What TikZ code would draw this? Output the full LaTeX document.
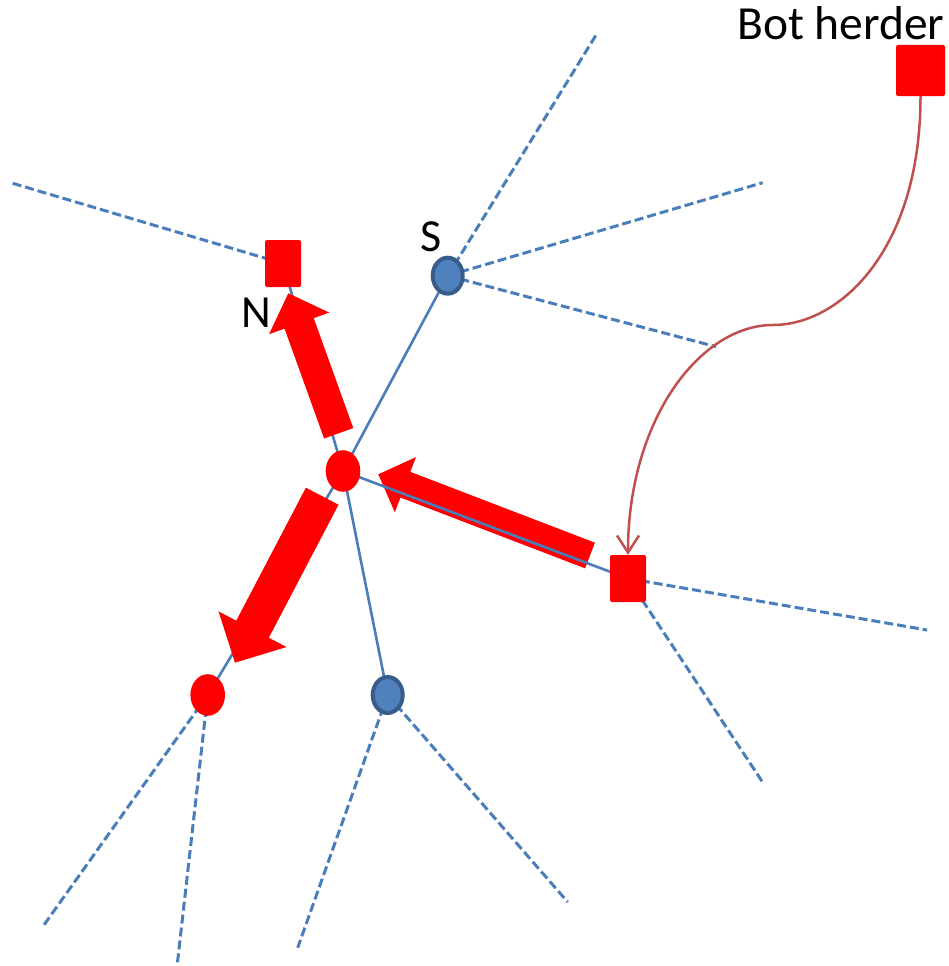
\documentclass[tikz,border=0pt]{standalone}
\usepackage{fontspec}
\setmainfont{Carlito}
\usetikzlibrary{calc,shapes.geometric,arrows.meta}
\definecolor{linkblue}{HTML}{4A7EBB}
\definecolor{peerfill}{HTML}{4F81BD}
\definecolor{peerline}{HTML}{385D8A}
\definecolor{cmdred}{HTML}{C0504D}
\definecolor{botred}{HTML}{FF0000}
\pgfdeclarelayer{bg}
\pgfdeclarelayer{fg}
\pgfsetlayers{bg,main,fg}
\tikzset{
  peer/.style={ellipse, draw=peerline, line width=4pt, fill=peerfill,
    minimum width=30pt, minimum height=36pt, inner sep=0pt},
  botpeer/.style={ellipse, fill=botred, minimum width=34.6pt,
    minimum height=41.6pt, inner sep=0pt},
  botbox/.style={rectangle, rounded corners=2pt, fill=botred,
    minimum width=36pt, minimum height=47pt, inner sep=0pt},
  link/.style={draw=linkblue, line width=2.6pt},
  farlink/.style={draw=linkblue, line width=3pt, dash pattern=on 9pt off 4pt},
  command/.style={draw=cmdred, line width=2.5pt,
    -{Straight Barb[length=17pt,width=22pt]}},
  fatarrow/.style={fill=botred},
  lbl/.style={inner sep=0pt, anchor=base west, font=\fontsize{46}{55}\selectfont}
}
% thick traffic arrow: tail, tip, half shaft width, half head width, head length
\newcommand\fatarrow[5]{%
  \coordinate (fa-h) at ($(#2)!#5!(#1)$);
  \fill[fatarrow] ($(#1)!#3!90:(#2)$) -- ($(fa-h)!#3!90:(#2)$)
    -- ($(fa-h)!#4!90:(#2)$) -- (#2) -- ($(fa-h)!#4!-90:(#2)$)
    -- ($(fa-h)!#3!-90:(#2)$) -- ($(#1)!#3!-90:(#2)$) -- cycle;}
\begin{document}
\begin{tikzpicture}[x=1pt,y=-1pt]
\useasboundingbox (0,0) rectangle (948,966);

% peers
\begin{pgfonlayer}{fg}
\node[botpeer] (c)  at (343,471) {};
\node[botpeer] (bl) at (207.7,695) {};
\node[peer]    (s)  at (447.7,275.7) {};
\node[peer]    (b2) at (387.7,695) {};
\node[botbox]  (n)  at (283,263.5) {};
\node[botbox]  (r)  at (628,578.5) {};
\node[botbox, minimum width=49pt, minimum height=51pt] (bh) at (920.5,70.5) {};
\end{pgfonlayer}

% labels
\node[lbl] (ln)  at (241,327.7) {N};
\node[lbl] (ls)  at (420,251.7) {S};
\node[lbl, font=\fontsize{47.5}{57}\selectfont] (lbh) at (737,40) {Bot herder};

% far ends of the dashed links
\coordinate (nw)  at (12.7,183.3);
\coordinate (sn)  at (596.7,34);
\coordinate (se1) at (762.7,182.7);
\coordinate (se2) at (716,346.7);
\coordinate (re)  at (927,630);
\coordinate (rs)  at (762.7,782.3);
\coordinate (bl1) at (42.7,926.7);
\coordinate (bl2) at (177.3,964);
\coordinate (b21) at (297.7,947.7);
\coordinate (b22) at (567.7,902);

% overlay links
\begin{pgfonlayer}{bg}
\draw[link] (c.center) -- (s.center);
\draw[link] (c.center) -- (n.center);
\draw[link] (c.center) -- (bl.center);
\draw[link] (c.center) -- (b2.center);
\draw[farlink] (n.center) -- (nw);
\draw[farlink] (s.center) -- (sn);
\draw[farlink] (s.center) -- (se1);
\draw[farlink] (s.center) -- (se2);
\draw[farlink] (r.center) -- (re);
\draw[farlink] (r.center) -- (rs);
\draw[farlink] (bl.center) -- (bl1);
\draw[farlink] (bl.center) -- (bl2);
\draw[farlink] (b2.center) -- (b21);
\draw[farlink] (b2.center) -- (b22);
\end{pgfonlayer}

% traffic arrows
\coordinate (a1s) at (338.7,433.3);
\coordinate (a1e) at (288.3,293.3);
\coordinate (a2s) at (590,555.5);
\coordinate (a2e) at (378.3,474.3);
\coordinate (a3s) at (322.2,496.2);
\coordinate (a3e) at (235,662.7);
\fatarrow{a1s}{a1e}{15.5pt}{32pt}{32pt}
\fatarrow{a2s}{a2e}{13.75pt}{29.5pt}{29pt}
\fatarrow{a3s}{a3e}{18.4pt}{38.4pt}{37.8pt}

\draw[link] (c.center) -- (r.center);

% command from the bot herder
\coordinate (cm) at (773,325);
\draw[command] (bh.south) .. controls (920.5,250) and (840,325) .. (cm)
  .. controls (700,325) and (628,420) .. (r.north);
\end{tikzpicture}
\end{document}
